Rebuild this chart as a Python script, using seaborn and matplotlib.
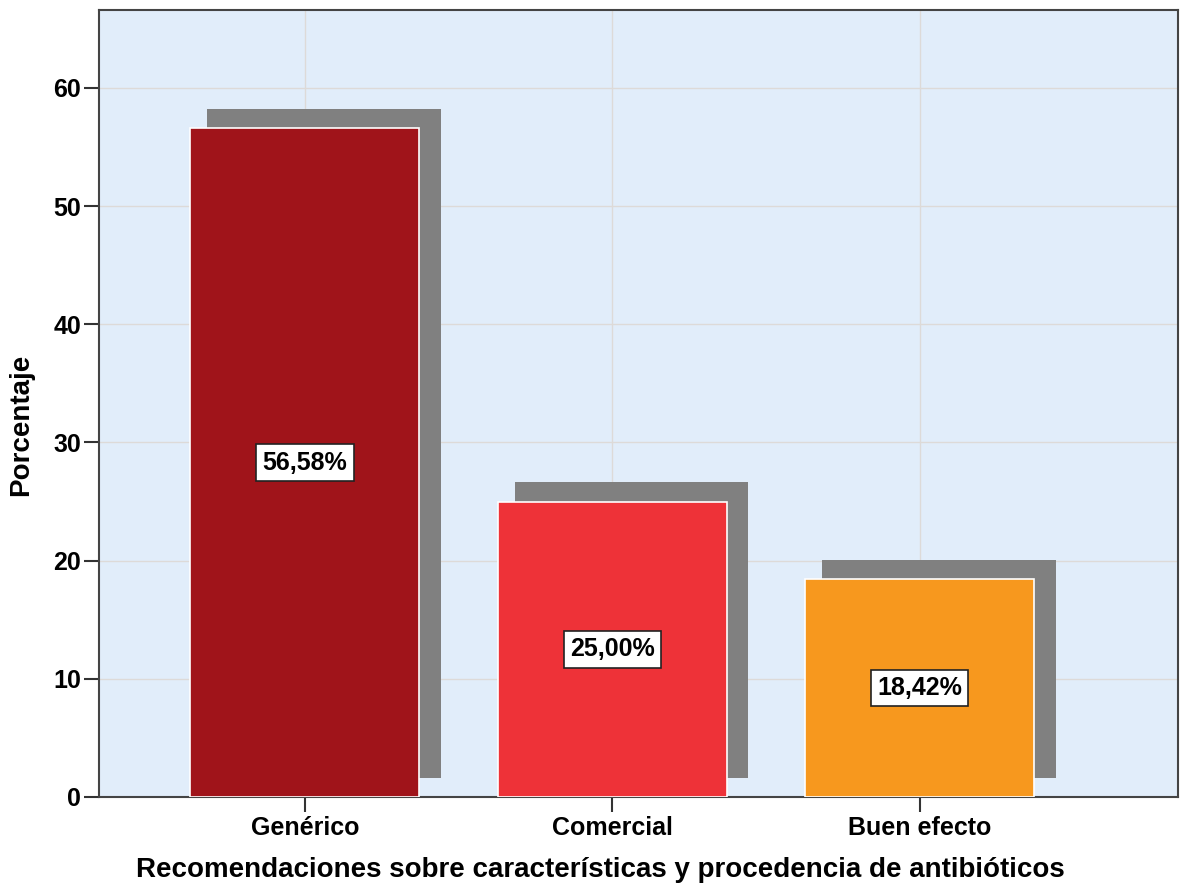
import matplotlib
matplotlib.use("Agg")
import matplotlib.pyplot as plt
import matplotlib.transforms as mtransforms
import seaborn as sns
import pandas as pd

categories = ["Genérico", "Comercial", "Buen efecto"]
values = [56.58, 25.00, 18.42]
labels = ["56,58%", "25,00%", "18,42%"]
colors = ["#A0141A", "#EE3238", "#F7981E"]
y_ticks = [0, 10, 20, 30, 40, 50, 60]

df = pd.DataFrame({"cat": categories, "val": values})

sns.set_theme(style="white")
plt.rcParams['font.family'] = ['Liberation Sans Narrow', 'Liberation Sans', 'DejaVu Sans']
plt.rcParams['font.weight'] = 'bold'

fig = plt.figure(figsize=(11.8, 8.93), dpi=100)
ax = fig.add_axes([99/1180, 1 - 797/893, (1178 - 99)/1180, (797 - 10)/893])
ax.set_facecolor("#E1EDFA")

# shadow bars
sns.barplot(data=df, x="cat", y="val", color="#808080", width=0.76,
            saturation=1, ax=ax, zorder=2)
shadow_patches = list(ax.patches)
offset = mtransforms.ScaledTranslation(19/100, 19.5/100, fig.dpi_scale_trans)
for p in shadow_patches:
    p.set_transform(ax.transData + offset)
    p.set_linewidth(0)

# main bars
sns.barplot(data=df, x="cat", y="val", hue="cat", palette=colors, width=0.745,
            saturation=1, legend=False, ax=ax, zorder=3,
            edgecolor="white", linewidth=1.2)
main_patches = [p for p in ax.patches if p not in shadow_patches]

for p, lab in zip(main_patches, labels):
    x = p.get_x() + p.get_width()/2
    y = p.get_height()/2
    ax.text(x, y, lab, ha="center", va="center", fontsize=18, fontweight="bold",
            color="black", zorder=5,
            bbox=dict(boxstyle="square,pad=0.25", facecolor="white",
                      edgecolor="#222222", linewidth=1.2))

ax.set_xlim(-0.67, 2.84)
ax.set_ylim(0, 66.6)
ax.set_yticks(y_ticks)
ax.set_axisbelow(True)
ax.grid(True, color="#DDDAD8", linewidth=1)

for s in ax.spines.values():
    s.set_color("#444444")
    s.set_linewidth(1.5)

ax.tick_params(axis="y", left=True, length=11, width=1.5, color="#333333",
               labelsize=18, pad=2, labelcolor="black")
ax.tick_params(axis="x", bottom=True, length=11, width=1.5, color="#333333",
               labelsize=18, pad=3, labelcolor="black")
for t in ax.get_xticklabels() + ax.get_yticklabels():
    t.set_fontweight("bold")

ax.set_xlabel("Recomendaciones sobre características y procedencia de antibióticos",
              fontsize=20, fontweight="bold", color="black")
ax.set_ylabel("Porcentaje", fontsize=20, fontweight="bold", color="black")
ax.xaxis.set_label_coords((600 - 99) / 1079, -(870 - 797) / 787)
ax.yaxis.set_label_coords(-(99 - 21) / 1079, (797 - 425) / 787)
ax.xaxis.label.set_verticalalignment("center")
ax.yaxis.label.set_verticalalignment("center")

fig.savefig("out.png", dpi=100)
